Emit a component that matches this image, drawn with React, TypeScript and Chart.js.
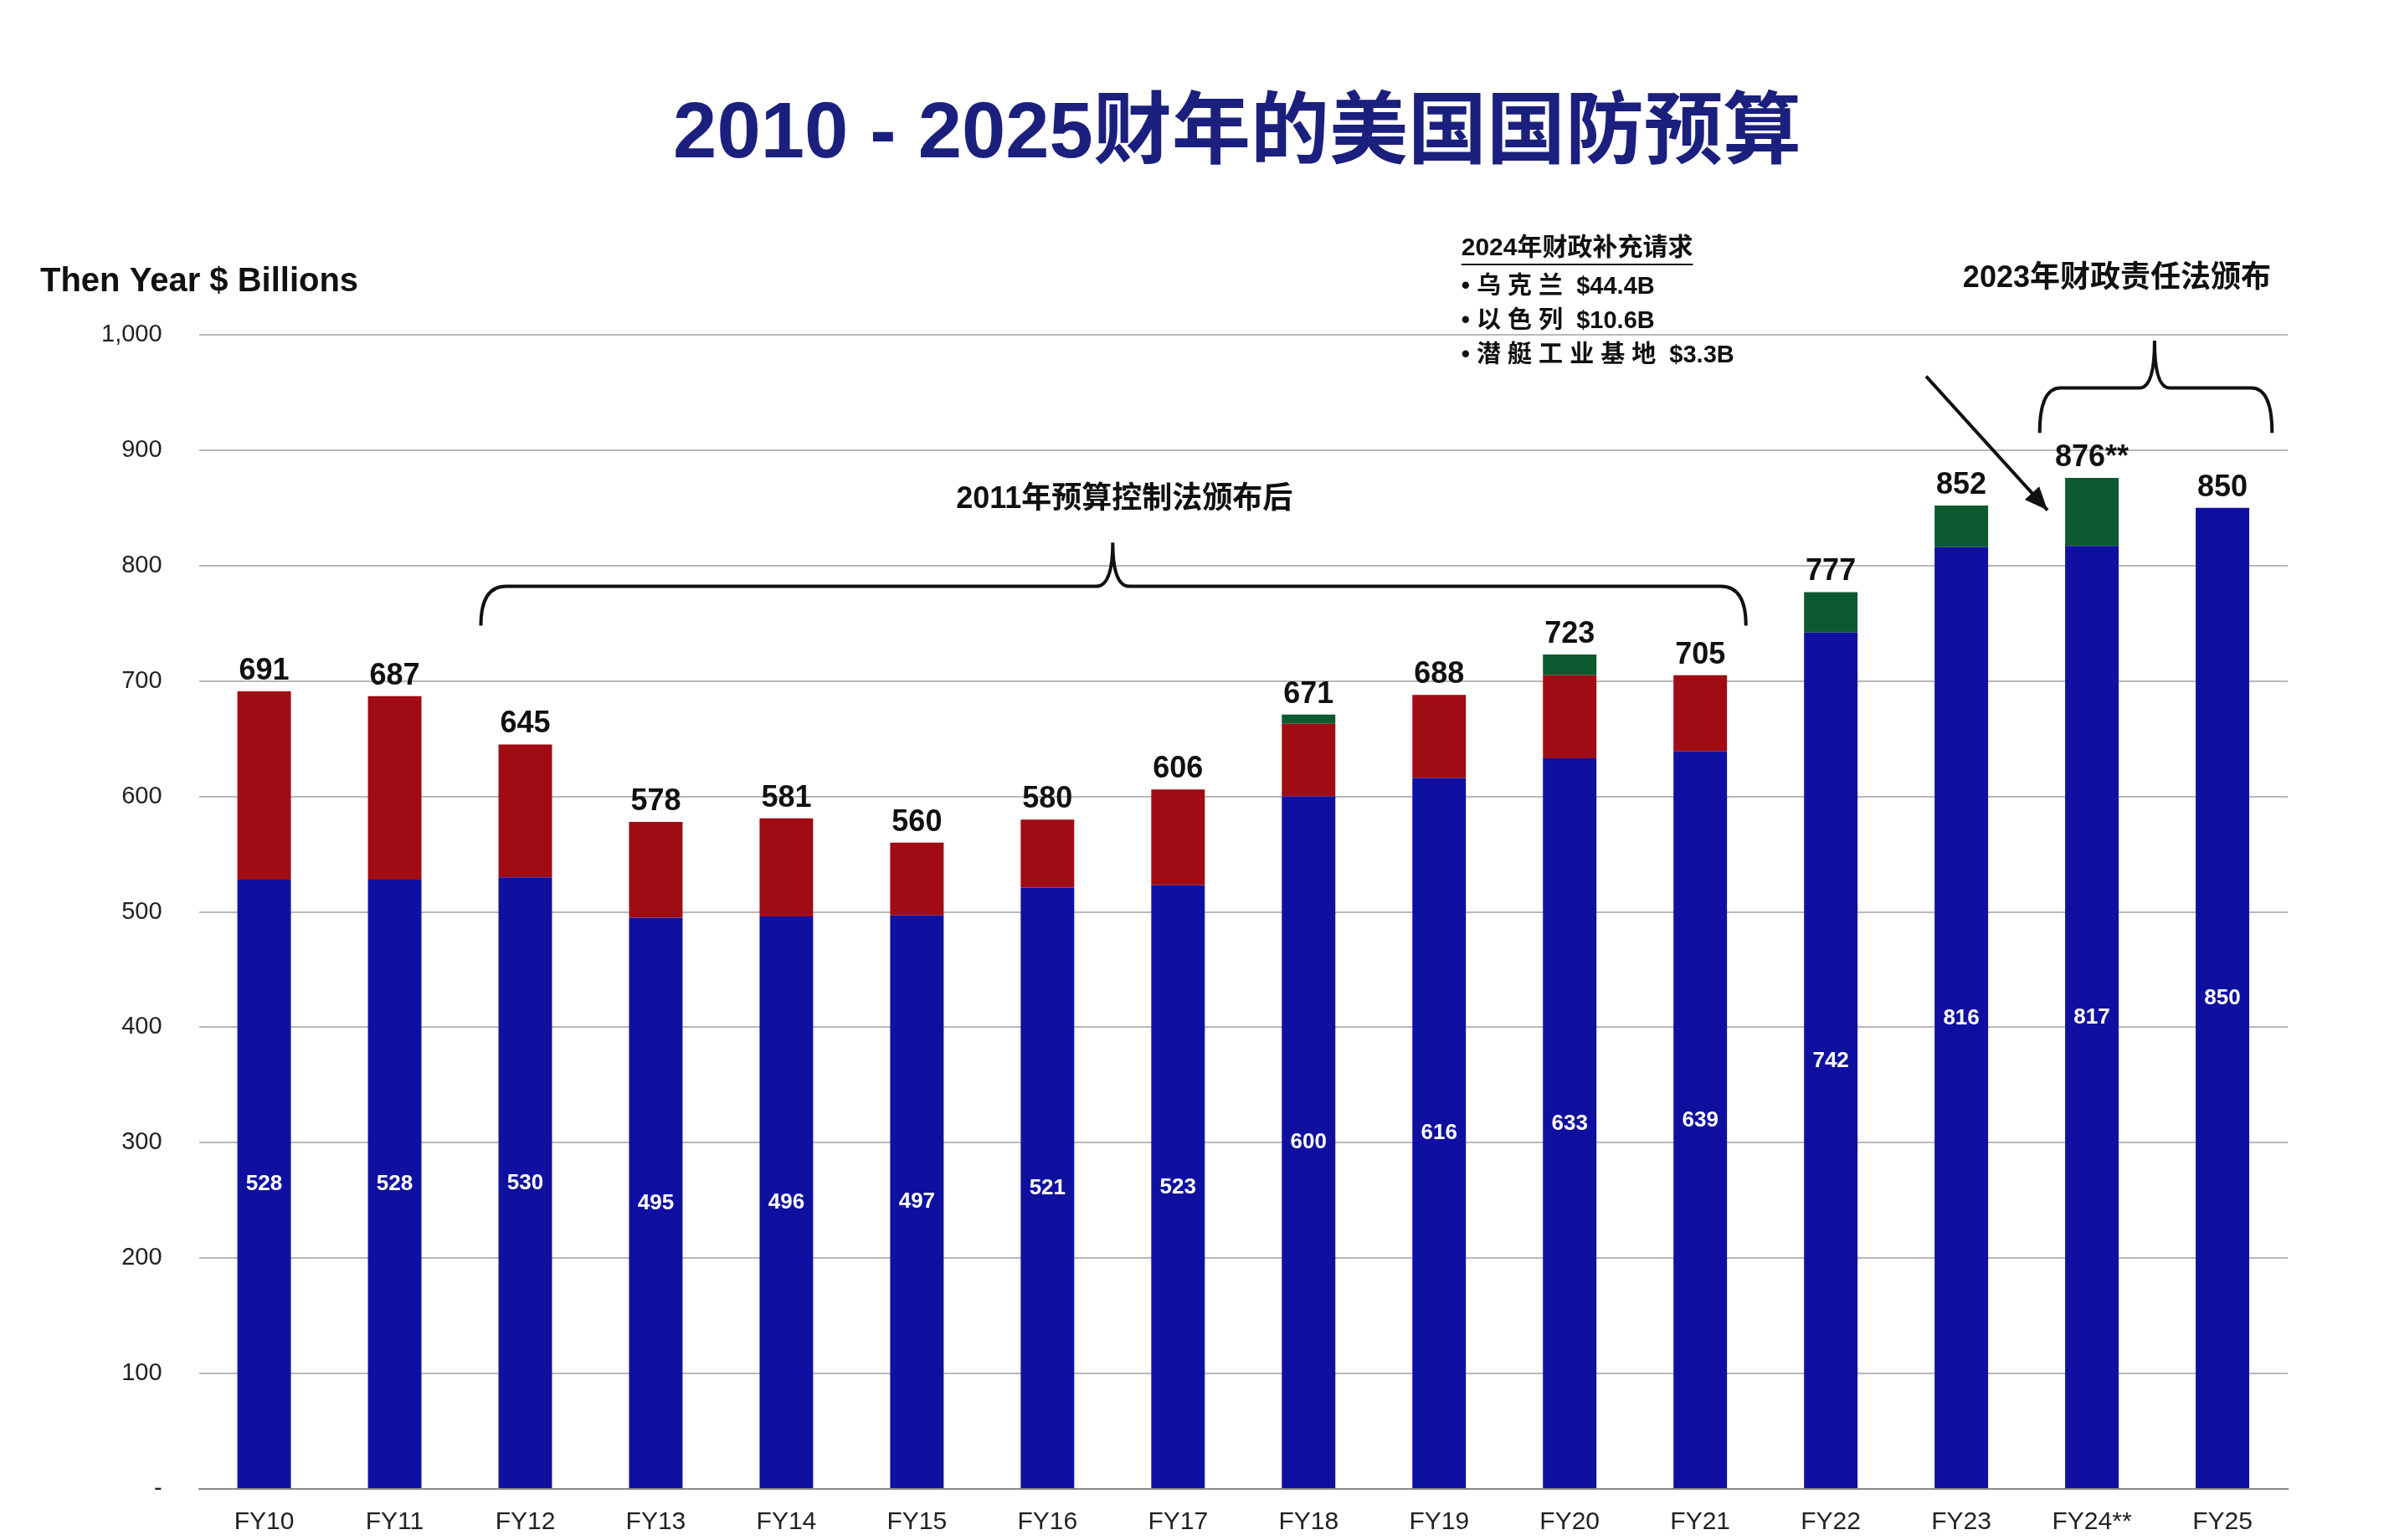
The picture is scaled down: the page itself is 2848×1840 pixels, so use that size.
import React, { useEffect, useRef } from "react";
import { Chart, registerables } from "chart.js";
Chart.register(...registerables);

const categories = ["FY10","FY11","FY12","FY13","FY14","FY15","FY16","FY17","FY18","FY19","FY20","FY21","FY22","FY23","FY24**","FY25"];
const baseValues = [528,528,530,495,496,497,521,523,600,616,633,639,742,816,817,850];
const ocoValues = [163,159,115,83,85,63,59,83,63,72,72,66,0,0,0,0];
const supplementalValues = [0,0,0,0,0,0,0,0,8,0,18,0,35,36,59,0];
const totalLabels = ["691","687","645","578","581","560","580","606","671","688","723","705","777","852","876**","850"];
const yTicks = [0,100,200,300,400,500,600,700,800,900,1000];

const FONT = "'Liberation Sans', Arial, sans-serif";
const CJK = "'Liberation Sans', 'Noto Sans CJK SC', sans-serif";

const overlay = {
  id: "overlay",
  afterDatasetsDraw(chart: any) {
    const ctx = chart.ctx;
    const x = chart.scales.x, y = chart.scales.y;
    ctx.save();
    ctx.fillStyle = "#1b1f7d";
    ctx.textAlign = "center";
    ctx.textBaseline = "middle";
    ctx.font = `bold 94px ${CJK}`;
    ctx.fillText("2010 - 2025财年的美国国防预算", 1478, 162);
    ctx.fillStyle = "#111";
    ctx.textAlign = "left";
    ctx.font = `bold 40px ${FONT}`;
    ctx.fillText("Then Year $ Billions", 48, 337);
    const meta0 = chart.getDatasetMeta(0);
    categories.forEach((c, i) => {
      const bar = meta0.data[i];
      const total = baseValues[i] + ocoValues[i] + supplementalValues[i];
      ctx.fillStyle = "#111";
      ctx.textAlign = "center";
      ctx.textBaseline = "bottom";
      ctx.font = `bold 36px ${FONT}`;
      ctx.fillText(totalLabels[i], bar.x, y.getPixelForValue(total) - 6);
      ctx.fillStyle = "#fff";
      ctx.textBaseline = "middle";
      ctx.font = `bold 26px ${FONT}`;
      ctx.fillText(String(baseValues[i]), bar.x, y.getPixelForValue(baseValues[i] / 2));
    });
    ctx.strokeStyle = "#111";
    ctx.lineWidth = 4;
    const b1l = x.getPixelForValue(1.66), b1r = x.getPixelForValue(11.35), b1m = x.getPixelForValue(6.5);
    const yb = y.getPixelForValue(782), yl = y.getPixelForValue(748), yt = y.getPixelForValue(820);
    ctx.beginPath();
    ctx.moveTo(b1l, yl);
    ctx.quadraticCurveTo(b1l, yb, b1l + 30, yb);
    ctx.lineTo(b1m - 20, yb);
    ctx.quadraticCurveTo(b1m, yb, b1m, yt);
    ctx.quadraticCurveTo(b1m, yb, b1m + 20, yb);
    ctx.lineTo(b1r - 30, yb);
    ctx.quadraticCurveTo(b1r, yb, b1r, yl);
    ctx.stroke();
    ctx.fillStyle = "#111";
    ctx.textAlign = "center";
    ctx.textBaseline = "middle";
    ctx.font = `bold 36px ${CJK}`;
    ctx.fillText("2011年预算控制法颁布后", b1m + 14, y.getPixelForValue(857));
    const b2l = x.getPixelForValue(13.6), b2r = x.getPixelForValue(15.38), b2m = x.getPixelForValue(14.48);
    const y2b = y.getPixelForValue(954), y2l = y.getPixelForValue(915), y2t = y.getPixelForValue(995);
    ctx.beginPath();
    ctx.moveTo(b2l, y2l);
    ctx.quadraticCurveTo(b2l, y2b, b2l + 25, y2b);
    ctx.lineTo(b2m - 18, y2b);
    ctx.quadraticCurveTo(b2m, y2b, b2m, y2t);
    ctx.quadraticCurveTo(b2m, y2b, b2m + 18, y2b);
    ctx.lineTo(b2r - 25, y2b);
    ctx.quadraticCurveTo(b2r, y2b, b2r, y2l);
    ctx.stroke();
    ctx.font = `bold 36px ${CJK}`;
    ctx.fillText("2023年财政责任法颁布", b2m - 45, 333);
    const ax1 = x.getPixelForValue(12.73), ay1 = y.getPixelForValue(964);
    const ax2 = x.getPixelForValue(13.66), ay2 = y.getPixelForValue(848);
    ctx.beginPath(); ctx.moveTo(ax1, ay1); ctx.lineTo(ax2, ay2); ctx.stroke();
    const ang = Math.atan2(ay2 - ay1, ax2 - ax1);
    ctx.beginPath();
    ctx.moveTo(ax2, ay2);
    ctx.lineTo(ax2 - 30 * Math.cos(ang - 0.4), ay2 - 30 * Math.sin(ang - 0.4));
    ctx.lineTo(ax2 - 30 * Math.cos(ang + 0.4), ay2 - 30 * Math.sin(ang + 0.4));
    ctx.closePath(); ctx.fill();
    const lx = x.getPixelForValue(9.17);
    ctx.textAlign = "left";
    ctx.font = `bold 30px ${CJK}`;
    ctx.fillText("2024年财政补充请求", lx, 297);
    const w = ctx.measureText("2024年财政补充请求").width;
    ctx.lineWidth = 2;
    ctx.beginPath(); ctx.moveTo(lx, 316); ctx.lineTo(lx + w, 316); ctx.stroke();
    ctx.font = `bold 29px ${CJK}`;
    ctx.fillText("• 乌 克 兰  $44.4B", lx, 343);
    ctx.fillText("• 以 色 列  $10.6B", lx, 384);
    ctx.fillText("• 潜 艇 工 业 基 地  $3.3B", lx, 425);
    ctx.restore();
  },
};

export default function App() {
  const ref = useRef<HTMLCanvasElement>(null);
  useEffect(() => {
    const chart = new Chart(ref.current!, {
      type: "bar",
      data: {
        labels: categories,
        datasets: [
          { label: "Base", data: baseValues, backgroundColor: "#1010a0" },
          { label: "OCO", data: ocoValues, backgroundColor: "#a00c14" },
          { label: "Supplemental", data: supplementalValues, backgroundColor: "#0d5a30" },
        ],
      },
      options: {
        animation: false,
        responsive: false,
        layout: { padding: { top: 400, left: 77, right: 115, bottom: 29 } },
        plugins: { legend: { display: false }, tooltip: { enabled: false } },
        datasets: { bar: { barPercentage: 0.41, categoryPercentage: 1 } } as any,
        scales: {
          x: {
            stacked: true,
            grid: { display: false },
            border: { color: "#888", width: 2 },
            ticks: { color: "#222", font: { size: 30, family: FONT }, padding: 14 },
          },
          y: {
            stacked: true,
            min: 0, max: 1000,
            afterBuildTicks: (s: any) => { s.ticks = yTicks.map((v) => ({ value: v })); },
            grid: { color: "#b8b8b8", lineWidth: 2, drawTicks: false },
            border: { display: false },
            ticks: {
              color: "#222", font: { size: 29, family: FONT }, padding: 44,
              callback: (v: any) => (v === 0 ? "-" : Number(v).toLocaleString("en-US")),
            },
          },
        },
      },
      plugins: [overlay],
    });
    return () => chart.destroy();
  }, []);
  return (
    <div style={{ position: "fixed", left: 0, top: 0, width: 2848, height: 1880, background: "#fff" }}>
      <canvas ref={ref} width={2848} height={1880} style={{ width: 2848, height: 1880 }} />
    </div>
  );
}
